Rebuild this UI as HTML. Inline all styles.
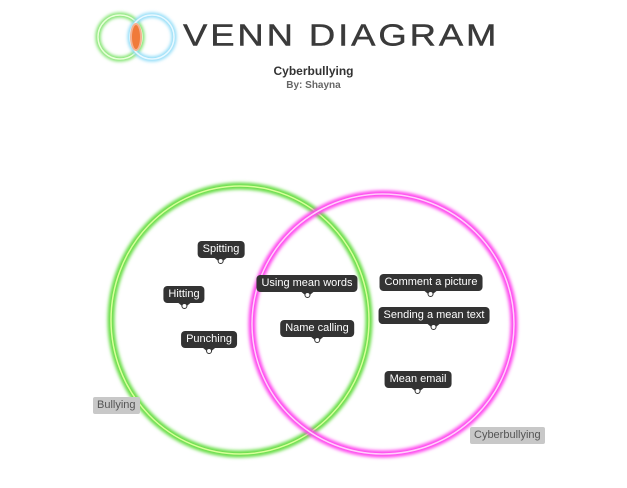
<!DOCTYPE html>
<html><head><style>
body{margin:0;width:627px;height:488px;background:#fff;position:relative;overflow:hidden;font-family:"Liberation Sans",sans-serif}
.t{position:absolute;background:#333;color:#fff;font-size:11px;line-height:17px;padding:0 5px;border-radius:4px;white-space:nowrap;transform:translateX(-50%)}
.t:after{content:"";position:absolute;left:50%;bottom:-5px;margin-left:-6px;border-left:6px solid transparent;border-right:6px solid transparent;border-top:5px solid #333}
.t i{position:absolute;left:50%;bottom:-6px;margin-left:-3px;width:4px;height:4px;border:1px solid #333;border-radius:50%;background:#fff;z-index:2}
.g{position:absolute;background:#c8c8c8;color:#555;font-size:11px;line-height:17px;padding:0 4px;border-radius:2px}
</style></head><body>
<svg width="627" height="488" style="position:absolute;left:0;top:0">
<defs><filter id="gl" x="-20%" y="-20%" width="140%" height="140%"><feGaussianBlur stdDeviation="1.5"/></filter></defs>
<circle cx="120" cy="37" r="22" fill="none" stroke="#7de36b" stroke-width="5" filter="url(#gl)"/>
<circle cx="120" cy="37" r="22" fill="none" stroke="#e8ffd8" stroke-width="1.5"/>
<circle cx="152" cy="37" r="22" fill="none" stroke="#8fdcf7" stroke-width="5" filter="url(#gl)"/>
<circle cx="152" cy="37" r="22" fill="none" stroke="#e8f8ff" stroke-width="1.5"/>
<ellipse cx="136" cy="37" rx="5" ry="13" fill="#f07a3a" stroke="#f4b090" stroke-width="2"/>
<ellipse cx="240" cy="320" rx="129" ry="134" fill="none" stroke="#66dd44" stroke-width="7" filter="url(#gl)"/>
<ellipse cx="240" cy="320" rx="129" ry="134" fill="none" stroke="#d8ff9a" stroke-width="1.5"/>
<ellipse cx="383" cy="324" rx="131" ry="130" fill="none" stroke="#ff44ee" stroke-width="7" filter="url(#gl)"/>
<ellipse cx="383" cy="324" rx="131" ry="130" fill="none" stroke="#ffd0fb" stroke-width="1.5"/>
</svg>
<div style="position:absolute;left:183px;top:12px;font-size:38px;letter-spacing:3px;color:#3a3a3a;line-height:48px;transform:scale(0.96,0.8);transform-origin:0 50%;-webkit-text-stroke:0.5px #3a3a3a">VENN DIAGRAM</div>
<div style="position:absolute;left:0;width:627px;top:64px;text-align:center;font-size:12px;color:#333;font-weight:bold">Cyberbullying</div>
<div style="position:absolute;left:0;width:627px;top:80px;text-align:center;font-size:10px;color:#666;font-weight:bold">By: Shayna</div>
<div class="t" style="left:221px;top:241px">Spitting<i></i></div>
<div class="t" style="left:184px;top:286px">Hitting<i></i></div>
<div class="t" style="left:209px;top:331px">Punching<i></i></div>
<div class="t" style="left:307px;top:275px">Using mean words<i></i></div>
<div class="t" style="left:317px;top:320px">Name calling<i></i></div>
<div class="t" style="left:431px;top:274px">Comment a picture<i></i></div>
<div class="t" style="left:434px;top:307px">Sending a mean text<i></i></div>
<div class="t" style="left:418px;top:371px">Mean email<i></i></div>
<div class="g" style="left:93px;top:397px">Bullying</div>
<div class="g" style="left:470px;top:427px">Cyberbullying</div>
</body></html>
